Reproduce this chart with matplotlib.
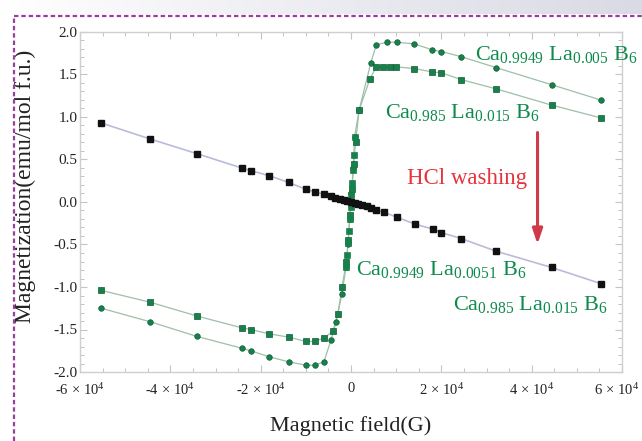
import numpy as np
import matplotlib
matplotlib.use("Agg")
import matplotlib.pyplot as plt
import matplotlib.transforms as mtransforms
from matplotlib.ticker import MultipleLocator, FixedLocator, FixedFormatter
from matplotlib.lines import Line2D

plt.rcParams['font.family'] = ['Liberation Serif', 'DejaVu Serif']
plt.rcParams['mathtext.fontset'] = 'custom'
plt.rcParams['mathtext.rm'] = 'Liberation Serif'
plt.rcParams['mathtext.it'] = 'Liberation Serif:italic'

# ---- data ----
# black: after HCl washing
H_wash = [-55300, -44400, -34200, -24200, -22200, -18200, -13800, -10000, -8000, -6000,
          -4500, -3500, -2500, -1500, -800, 0, 800, 1500, 2500, 3500, 4500, 5500,
          7300, 10200, 14200, 18200, 20000, 24400, 32200, 44400, 55300]
M_wash = [0.93, 0.74, 0.57, 0.40, 0.37, 0.31, 0.23, 0.15, 0.12, 0.09,
          0.07, 0.05, 0.04, 0.02, 0.01, 0.0, -0.01, -0.02, -0.04, -0.05, -0.07, -0.09,
          -0.12, -0.18, -0.26, -0.32, -0.36, -0.43, -0.58, -0.77, -0.96]

# green A: Ca0.9949 La0.005 B6 (small round markers)
H_A = [-55300, -44400, -34200, -24200, -22200, -18200, -13800, -10000, -8000, -6000,
       -4400, -3300, -2000, -1100, -700, -300, 100, 500, 800, 1800, 4400,
       5600, 8000, 10200, 14000, 18000, 20000, 24400, 32200, 44400, 55300]
M_A = [-1.25, -1.41, -1.58, -1.72, -1.75, -1.82, -1.88, -1.92, -1.92, -1.88,
       -1.62, -1.41, -1.08, -0.76, -0.50, -0.20, 0.10, 0.40, 0.77, 1.08, 1.64,
       1.85, 1.88, 1.88, 1.86, 1.79, 1.77, 1.71, 1.58, 1.38, 1.20]

# green B: Ca0.985 La0.015 B6 (square markers)
H_B = [-55300, -44400, -34200, -24200, -22200, -18200, -13800, -10000, -8000, -6000,
       -4000, -2900, -2000, -1000, -600, -200, 200, 600, 1000, 1800, 4200,
       5600, 7000, 8600, 10000, 14000, 18000, 20000, 24400, 32200, 44400, 55300]
M_B = [-1.04, -1.18, -1.34, -1.48, -1.50, -1.55, -1.59, -1.64, -1.64, -1.60,
       -1.52, -1.32, -1.00, -0.70, -0.45, -0.15, 0.15, 0.45, 0.70, 1.08, 1.45,
       1.59, 1.59, 1.59, 1.59, 1.57, 1.53, 1.52, 1.44, 1.33, 1.14, 0.99]

# dense vertical band near zero field
H_band = [-1100, -900, -700, -500, -300, -100, 100, 300, 500, 700, 800]
M_band = [-0.76, -0.62, -0.48, -0.34, -0.20, -0.06, 0.08, 0.22, 0.38, 0.55, 0.77]

xtick_vals = [-60000, -40000, -20000, 0, 20000, 40000, 60000]
xtick_labels = ['-6$\\,\\times\\,$10$^{4}$', '-4$\\,\\times\\,$10$^{4}$',
                '-2$\\,\\times\\,$10$^{4}$', '0',
                '2$\\,\\times\\,$10$^{4}$', '4$\\,\\times\\,$10$^{4}$',
                '6$\\,\\times\\,$10$^{4}$']
ytick_vals = [-2.0, -1.5, -1.0, -0.5, 0.0, 0.5, 1.0, 1.5, 2.0]

GREEN = '#18804a'
LINEG = '#9dbfa8'
TXTG = '#0e8a4c'
RED = '#e8323c'

fig = plt.figure(figsize=(6.42, 4.41), dpi=100)

# top gradient strip
bg = fig.add_axes([0, 1 - 14 / 441, 1, 14 / 441])
grad = np.linspace(0, 1, 256).reshape(1, -1)
bg.imshow(grad, aspect='auto', cmap=matplotlib.colors.LinearSegmentedColormap.from_list(
    'g', ['#ffffff', '#d9dae4']), extent=[0, 1, 0, 1])
bg.axis('off')

# purple dashed border
fig.add_artist(Line2D([14 / 642, 1], [1 - 16 / 441, 1 - 16 / 441], transform=fig.transFigure,
                      color='#9a3fa0', lw=1.6, ls=(0, (2.0, 1.3))))
fig.add_artist(Line2D([14 / 642, 14 / 642], [0, 1 - 16 / 441], transform=fig.transFigure,
                      color='#9a3fa0', lw=1.6, ls=(0, (2.0, 1.3))))

ax = fig.add_axes([80 / 642, (441 - 372) / 441, (622 - 80) / 642, (372 - 32) / 441])

# fit lines
ax.plot(H_wash, M_wash, color='#b8bcd8', lw=1.2, zorder=1)
ax.plot(H_A, M_A, color=LINEG, lw=0.9, zorder=1)
ax.plot(H_B, M_B, color=LINEG, lw=0.9, zorder=1)

ax.plot(H_A, M_A, 'o', color=GREEN, ms=4.0, mec='#0c5e34', mew=0.5, zorder=3)
ax.plot(H_B, M_B, 's', color=GREEN, ms=4.6, mec='#0c5e34', mew=0.5, zorder=3)
ax.plot(H_band, M_band, 's', color=GREEN, ms=4.6, mec=GREEN, mew=0.5, zorder=3)
ax.plot(H_wash, M_wash, 's', color='#111111', ms=4.6, zorder=4)

ax.set_xlim(-60000, 60000)
ax.set_ylim(-2.0, 2.0)

ax.xaxis.set_major_locator(FixedLocator(xtick_vals))
ax.xaxis.set_major_formatter(FixedFormatter(xtick_labels))
ax.xaxis.set_minor_locator(MultipleLocator(5000))
ax.yaxis.set_major_locator(FixedLocator(ytick_vals))
ax.set_yticklabels(['%.1f' % v for v in ytick_vals])
ax.yaxis.set_minor_locator(MultipleLocator(0.1))

ax.tick_params(which='both', direction='in', top=True, right=True, color='#c4c4c4',
               labelsize=11, labelcolor='#222222')
ax.tick_params(axis='x', which='major', pad=7, labelsize=10.5)
ax.tick_params(axis='y', which='major', pad=2)
ax.tick_params(which='major', length=5, width=0.8)
ax.tick_params(which='minor', length=3, width=0.7)
for s in ax.spines.values():
    s.set_color('#cfcfcf')
    s.set_linewidth(1.0)

# keep the last x tick label inside the figure
fig.canvas.draw()
last = ax.get_xticklabels()[-1]
last.set_transform(last.get_transform() +
                   mtransforms.ScaledTranslation(-5 / 100, 0, fig.dpi_scale_trans))

ax.set_xlabel('Magnetic field(G)', fontsize=16, color='#222222', labelpad=13)
ax.set_ylabel('Magnetization(emu/mol f.u.)', fontsize=17, color='#222222')
ax.yaxis.set_label_coords(-0.082, 0.545)

lab_fs = 16
ax.text(27500, 1.73, r'Ca$_{0.9949}$ La$_{0.005}$ B$_6$', color=TXTG, fontsize=lab_fs,
        va='center', ha='left')
ax.text(7500, 1.05, r'Ca$_{0.985}$ La$_{0.015}$ B$_6$', color=TXTG, fontsize=lab_fs,
        va='center', ha='left')
ax.text(12300, 0.28, 'HCl washing', color=RED, fontsize=16.5, va='center', ha='left')
ax.text(1200, -0.80, r'Ca$_{0.9949}$ La$_{0.0051}$ B$_6$', color=TXTG, fontsize=lab_fs,
        va='center', ha='left')
ax.text(22500, -1.21, r'Ca$_{0.985}$ La$_{0.015}$ B$_6$', color=TXTG, fontsize=lab_fs,
        va='center', ha='left')

ax.annotate('', xy=(41300, -0.53), xytext=(41300, 0.85),
            arrowprops=dict(arrowstyle='-|>,head_length=0.9,head_width=0.3',
                            color='#d03a48', lw=2.2))

fig.savefig('out.png', dpi=100)
